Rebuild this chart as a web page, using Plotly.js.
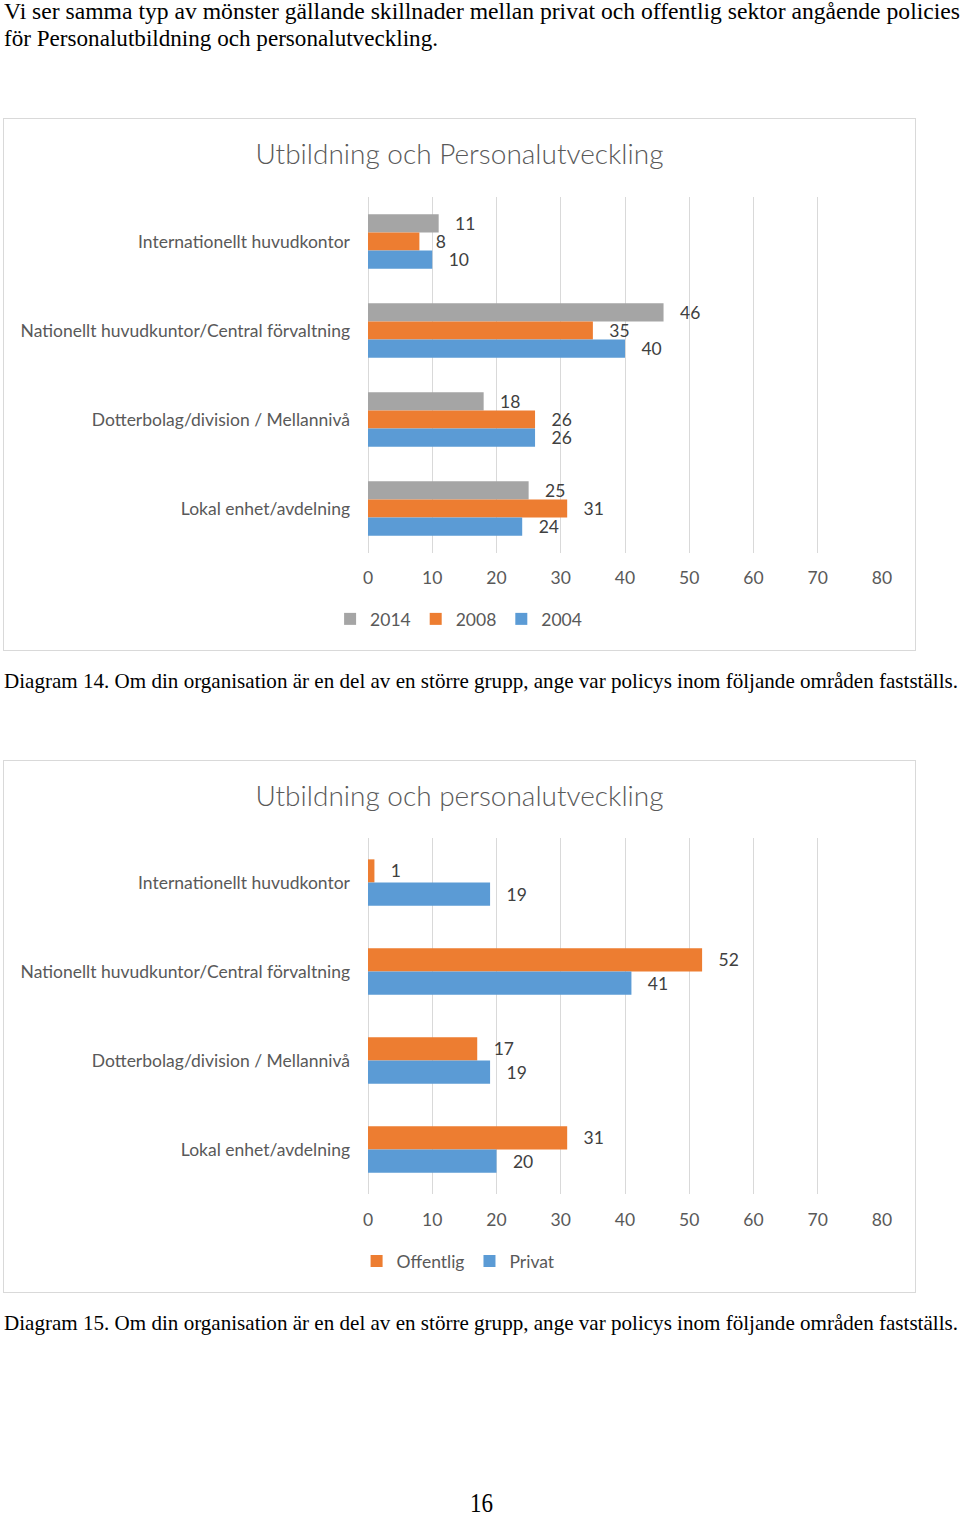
<!DOCTYPE html>
<html>
<head>
<meta charset="utf-8">
<script src="https://cdn.plot.ly/plotly-3.0.1.min.js"></script>
<style>
  html, body { margin: 0; padding: 0; background: #fff; }
  body { width: 960px; height: 1515px; position: relative; overflow: hidden; }
  .txt { position: absolute; left: 4px; white-space: nowrap; font-family: "Liberation Serif", "Times New Roman", serif; color: #000; transform-origin: 0 0; display: inline-block; }
  .box { position: absolute; left: 3px; width: 911px; height: 531px; border: 1px solid #d9d9d9; background: #fff; }
</style>
</head>
<body>
<div class="txt" id="p1" data-w="956" data-base="20" data-size="24">Vi ser samma typ av mönster gällande skillnader mellan privat och offentlig sektor angående policies</div>
<div class="txt" id="p2" data-w="434" data-base="47" data-size="24">för Personalutbildning och personalutveckling.</div>
<div class="box" id="box1" style="top:118px;"><div id="chart1" style="width:911px;height:531px;"></div></div>
<div class="txt" id="c1" data-w="954" data-base="689" data-size="21">Diagram 14. Om din organisation är en del av en större grupp, ange var policys inom följande områden fastställs.</div>
<div class="box" id="box2" style="top:760px;"><div id="chart2" style="width:911px;height:531px;"></div></div>
<div class="txt" id="c2" data-w="954" data-base="1331" data-size="21">Diagram 15. Om din organisation är en del av en större grupp, ange var policys inom följande områden fastställs.</div>
<div class="txt" id="pg" data-w="23" data-base="1512" data-size="27" style="left:470px;">16</div>
<script>
// ---- Data ----
const categories = [
  'Internationellt huvudkontor',
  'Nationellt huvudkuntor/Central förvaltning',
  'Dotterbolag/division / Mellannivå',
  'Lokal enhet/avdelning'
];
const values2014 = [11, 46, 18, 25];
const values2008 = [8, 35, 26, 31];
const values2004 = [10, 40, 26, 24];
const valuesOffentlig = [1, 52, 17, 31];
const valuesPrivat = [19, 41, 19, 20];
const xTickValues = [0, 10, 20, 30, 40, 50, 60, 70, 80];
const title1 = 'Utbildning och Personalutveckling';
const title2 = 'Utbildning och personalutveckling';

// ---- Styling ----
const GRAY = '#a5a5a5', ORANGE = '#ed7d31', BLUE = '#5b9bd5';
const FONT = 'Lato, "Open Sans", sans-serif';
const TXT = '#595959';
const FS = 17.5;

function barTrace(name, vals, color) {
  return {
    type: 'bar', orientation: 'h', name: name,
    x: vals, y: categories,
    marker: { color: color, line: { width: 0 } },
    text: vals.map(v => String(v)),
    texttemplate: '\u00a0\u00a0\u00a0%{text}',
    textposition: 'outside',
    constraintext: 'none',
    cliponaxis: false,
    textfont: { family: FONT, size: FS, color: '#404040' },
    hoverinfo: 'skip'
  };
}

function makeLayout(titleText, bargap, standoff) {
  return {
    width: 911, height: 531,
    margin: { l: 364, r: 33, t: 78, b: 97, pad: 0 },
    paper_bgcolor: '#fff', plot_bgcolor: '#fff',
    font: { family: FONT, color: TXT, size: FS },
    title: {
      text: titleText,
      font: { family: FONT, size: 28, color: TXT, weight: 300 },
      x: 0.5, xref: 'container', xanchor: 'center',
      y: 1 - 35 / 531, yref: 'container', yanchor: 'middle'
    },
    barmode: 'group', bargap: bargap, bargroupgap: 0,
    showlegend: true,
    legend: {
      orientation: 'h', xref: 'container', x: 0.499, xanchor: 'center',
      yref: 'container', y: 1 - 500 / 531, yanchor: 'middle',
      font: { family: FONT, size: FS, color: TXT },
      itemclick: false, itemdoubleclick: false,
      traceorder: 'normal', tracegroupgap: 0
    },
    xaxis: {
      range: [0, 80], tickvals: xTickValues, ticktext: xTickValues.map(String),
      showgrid: true, gridcolor: '#d9d9d9', gridwidth: 1,
      zeroline: true, zerolinecolor: '#d9d9d9', zerolinewidth: 1,
      showline: false, ticks: '', ticklabelstandoff: standoff,
      tickfont: { family: FONT, size: FS, color: TXT },
      fixedrange: true
    },
    yaxis: {
      autorange: 'reversed', type: 'category',
      showgrid: false, zeroline: false, showline: false, ticks: '',
      ticklabelstandoff: 17,
      tickfont: { family: FONT, size: FS, color: TXT },
      fixedrange: true
    }
  };
}

Plotly.newPlot('chart1', [
  barTrace('2014', values2014, GRAY),
  barTrace('2008', values2008, ORANGE),
  barTrace('2004', values2004, BLUE)
], makeLayout(title1, 0.39, 12), { staticPlot: true, displayModeBar: false });

const l2 = makeLayout(title2, 0.48, 13);
l2.margin = { l: 364, r: 33, t: 77, b: 98, pad: 0 };
Plotly.newPlot('chart2', [
  barTrace('Offentlig', valuesOffentlig, ORANGE),
  barTrace('Privat', valuesPrivat, BLUE)
], l2, { staticPlot: true, displayModeBar: false });

// ---- Fit HTML text lines ----
function fitText() {
  document.querySelectorAll('.txt').forEach(el => {
    const size = +el.dataset.size;
    const L = Math.round(0.8 * size);
    el.style.fontSize = size + 'px';
    el.style.lineHeight = L + 'px';
    el.style.top = (+el.dataset.base - ((L - 1.107 * size) / 2 + 0.891 * size)) + 'px';
    el.style.transform = 'none';
    const w = el.getBoundingClientRect().width;
    const target = +el.dataset.w;
    el.style.transform = 'scaleX(' + (target / w) + ')';
  });
}
fitText();
if (document.fonts && document.fonts.ready) document.fonts.ready.then(fitText);
</script>
</body>
</html>
